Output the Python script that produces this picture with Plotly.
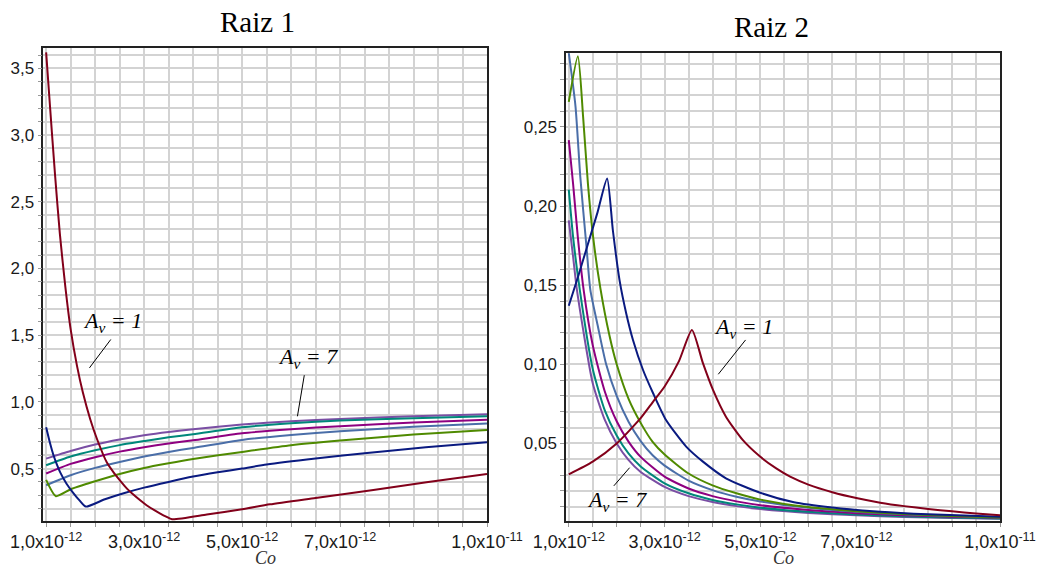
import plotly.graph_objects as go

P = 1e-12  # Co values below are in units of 1e-12

# ---------------- Raiz 1 (left) ----------------
co_l1 = [1.0, 1.08, 1.18, 1.28, 1.39, 1.50, 1.63, 1.75, 1.90, 2.04, 2.24, 2.38, 2.51, 2.65, 2.78, 2.92, 3.05, 3.20, 3.33, 3.45, 3.57, 4.28, 5.0, 5.57, 6.5, 7.68, 8.8, 10.0]
v_l1 = [3.62, 3.21, 2.71, 2.26, 1.87, 1.545, 1.27, 1.07, 0.87, 0.72, 0.545, 0.47, 0.41, 0.35, 0.305, 0.262, 0.225, 0.19, 0.163, 0.14, 0.12, 0.155, 0.195, 0.232, 0.28, 0.34, 0.40, 0.46]

co_l2 = [1.0, 1.08, 1.15, 1.22, 1.29, 1.42, 1.56, 1.69, 1.81, 2.2, 2.6, 3.0, 3.5, 4.0, 4.5, 5.0, 5.5, 6.5, 7.5, 8.75, 10.0]
v_l2 = [0.81, 0.69, 0.60, 0.53, 0.47, 0.385, 0.315, 0.258, 0.215, 0.27, 0.317, 0.357, 0.40, 0.44, 0.472, 0.50, 0.53, 0.575, 0.615, 0.66, 0.6975]

co_l3 = [1.0, 1.2, 1.5, 2.0, 2.5, 3.0, 3.5, 4.0, 5.0, 6.0, 7.0, 8.5, 10.0]
v_l3 = [0.415, 0.293, 0.345, 0.405, 0.46, 0.505, 0.54, 0.572, 0.625, 0.675, 0.71, 0.755, 0.79]

co_lr = [1.0, 1.5, 2.0, 2.5, 3.0, 3.5, 4.0, 5.0, 6.0, 7.0, 8.5, 10.0]
v_l4 = [0.375, 0.45, 0.505, 0.55, 0.59, 0.625, 0.655, 0.715, 0.752, 0.78, 0.813, 0.8375]
v_l5 = [0.463, 0.535, 0.585, 0.627, 0.66, 0.688, 0.712, 0.765, 0.795, 0.818, 0.845, 0.867]
v_l6 = [0.525, 0.59, 0.637, 0.676, 0.706, 0.735, 0.758, 0.81, 0.84, 0.86, 0.878, 0.8925]
v_l7 = [0.575, 0.632, 0.68, 0.718, 0.75, 0.775, 0.795, 0.83, 0.855, 0.872, 0.892, 0.907]

# ---------------- Raiz 2 (right) ----------------
co_r1 = [1.0, 1.5, 2.0, 2.5, 2.75, 3.0, 3.3, 3.57, 3.8, 4.01, 4.28, 4.63, 4.98, 5.33, 5.62, 6.0, 6.5, 7.0, 7.5, 8.0, 8.5, 9.0, 9.5, 10.0]
v_r1 = [0.0305, 0.0385, 0.05, 0.066, 0.076, 0.086, 0.102, 0.1217, 0.1007, 0.0838, 0.0669, 0.0522, 0.0420, 0.0342, 0.0290, 0.0240, 0.0192, 0.0155, 0.0126, 0.0104, 0.0086, 0.0071, 0.0058, 0.0047]

co_r2 = [1.0, 1.2, 1.4, 1.6, 1.80, 1.92, 2.06, 2.20, 2.34, 2.55, 2.76, 3.03, 3.45, 3.80, 4.28, 4.98, 5.7, 6.5, 7.5, 8.5, 10.0]
v_r2 = [0.137, 0.156, 0.176, 0.196, 0.2174, 0.1847, 0.153, 0.132, 0.1154, 0.0964, 0.0817, 0.0648, 0.048, 0.0385, 0.028, 0.019, 0.0128, 0.0095, 0.0068, 0.0052, 0.0037]

co_r3 = [1.0, 1.19, 1.3, 1.4, 1.51, 1.66, 1.85, 2.0, 2.25, 2.5, 2.75, 3.0, 3.5, 4.0, 4.5, 5.0, 6.0, 7.0, 8.0, 9.0, 10.0]
v_r3 = [0.2658, 0.2946, 0.256, 0.214, 0.18, 0.148, 0.118, 0.100, 0.078, 0.063, 0.051, 0.043, 0.031, 0.0235, 0.0185, 0.0145, 0.0098, 0.0072, 0.0054, 0.0042, 0.0032]

co_r4 = [1.0, 1.14, 1.24, 1.37, 1.45, 1.6, 1.78, 2.0, 2.25, 2.5, 2.75, 3.0, 3.5, 4.0, 4.5, 5.0, 6.0, 7.0, 8.0, 9.0, 10.0]
v_r4 = [0.2967, 0.263, 0.2186, 0.174, 0.147, 0.125, 0.10, 0.08, 0.0635, 0.0515, 0.0425, 0.036, 0.0265, 0.0205, 0.0163, 0.0133, 0.0093, 0.0068, 0.0052, 0.0041, 0.0033]

co_r5 = [1.0, 1.09, 1.19, 1.31, 1.5, 1.75, 2.0, 2.25, 2.5, 3.0, 3.5, 4.0, 4.5, 5.0, 6.0, 7.0, 8.0, 9.0, 10.0]
v_r5 = [0.2416, 0.214, 0.18, 0.147, 0.112, 0.083, 0.064, 0.051, 0.0415, 0.029, 0.0215, 0.0167, 0.0134, 0.011, 0.0079, 0.0059, 0.0046, 0.0037, 0.003]

co_r6 = [1.0, 1.09, 1.23, 1.5, 1.75, 2.0, 2.25, 2.5, 3.0, 3.5, 4.0, 4.5, 5.0, 6.0, 7.0, 8.0, 9.0, 10.0]
v_r6 = [0.2104, 0.1805, 0.147, 0.097, 0.071, 0.055, 0.0435, 0.0355, 0.0248, 0.0185, 0.0143, 0.0115, 0.0094, 0.0068, 0.0051, 0.004, 0.0032, 0.0026]

co_r7 = [1.0, 1.09, 1.17, 1.5, 1.75, 2.0, 2.25, 2.5, 3.0, 3.5, 4.0, 4.5, 5.0, 6.0, 7.0, 8.0, 9.0, 10.0]
v_r7 = [0.191, 0.168, 0.147, 0.088, 0.065, 0.05, 0.0395, 0.032, 0.0225, 0.0167, 0.013, 0.0104, 0.0085, 0.0061, 0.0046, 0.0036, 0.0029, 0.0024]

colors = ["#82001A", "#0A1A80", "#4F8A00", "#4A6EA8", "#8E0080", "#00877A", "#7A4EA4"]

x_tickvals = [1e-12, 3e-12, 5e-12, 7e-12, 1e-11]
x_ticktext = ["1,0x10<sup>-12</sup>", "3,0x10<sup>-12</sup>", "5,0x10<sup>-12</sup>",
              "7,0x10<sup>-12</sup>", "1,0x10<sup>-11</sup>"]
yl_tickvals = [0.5, 1.0, 1.5, 2.0, 2.5, 3.0, 3.5]
yl_ticktext = ["0,5", "1,0", "1,5", "2,0", "2,5", "3,0", "3,5"]
yr_tickvals = [0.05, 0.10, 0.15, 0.20, 0.25]
yr_ticktext = ["0,05", "0,10", "0,15", "0,20", "0,25"]

left_series = [(co_l1, v_l1), (co_l2, v_l2), (co_l3, v_l3), (co_lr, v_l4),
               (co_lr, v_l5), (co_lr, v_l6), (co_lr, v_l7)]
right_series = [(co_r1, v_r1), (co_r2, v_r2), (co_r3, v_r3), (co_r4, v_r4),
                (co_r5, v_r5), (co_r6, v_r6), (co_r7, v_r7)]

fig = go.Figure()
for i in reversed(range(7)):
    cx, vy = left_series[i]
    fig.add_trace(go.Scatter(x=[c * P for c in cx], y=vy, mode="lines",
                             line=dict(color=colors[i], width=2, shape="spline", smoothing=0.6),
                             xaxis="x", yaxis="y", showlegend=False, hoverinfo="skip"))
for i in reversed(range(7)):
    cx, vy = right_series[i]
    fig.add_trace(go.Scatter(x=[c * P for c in cx], y=vy, mode="lines",
                             line=dict(color=colors[i], width=2, shape="spline", smoothing=0.6),
                             xaxis="x2", yaxis="y2", showlegend=False, hoverinfo="skip"))

W, H = 1040, 567
grid = "#d3d3d3"
xtickfont = dict(family="Liberation Sans, Arial", size=18, color="#1a1a1a")
ytickfont = dict(family="Liberation Sans, Arial", size=17, color="#1a1a1a")

def xaxis(dom, anchor):
    return dict(domain=dom, anchor=anchor, range=[0.942e-12, 1e-11], automargin=False,
                tickmode="array", tickvals=x_tickvals, ticktext=x_ticktext,
                ticks="outside", ticklen=4, tickcolor="#999", tickfont=xtickfont,
                showgrid=True, gridcolor=grid, gridwidth=1.5, zeroline=False,
                showline=True, linecolor="#222", linewidth=1.5, mirror=True,
                minor=dict(tick0=1e-12, dtick=0.5e-12, showgrid=True, gridcolor=grid,
                           gridwidth=1.5, ticks="outside", ticklen=4, tickcolor="#999"))

def yaxis(dom, anchor, rng, tv, tt, mdt):
    return dict(domain=dom, anchor=anchor, range=rng, automargin=False,
                tickmode="array", tickvals=tv, ticktext=tt,
                ticks="outside", ticklen=4, tickcolor="#999", tickfont=ytickfont,
                showgrid=True, gridcolor=grid, gridwidth=1.5, zeroline=False,
                showline=True, linecolor="#222", linewidth=1.5, mirror=True,
                minor=dict(tick0=0, dtick=mdt, showgrid=True, gridcolor=grid,
                           gridwidth=1.5, ticks="outside", ticklen=4, tickcolor="#999"))

fig.update_layout(
    width=W, height=H, margin=dict(l=0, r=0, t=0, b=0, autoexpand=False),
    paper_bgcolor="white", plot_bgcolor="white",
    xaxis=xaxis([43.3 / W, 487 / W], "y"),
    yaxis=yaxis([1 - 521 / H, 1 - 48.3 / H], "x", [0.107, 3.651], yl_tickvals, yl_ticktext, 0.1),
    xaxis2=xaxis([566 / W, 1000 / W], "y2"),
    yaxis2=yaxis([1 - 521 / H, 1 - 53.3 / H], "x2", [0.001, 0.2965], yr_tickvals, yr_ticktext, 0.01),
)

serif = "Liberation Serif, Times New Roman, serif"
def lab(text, x, y, xref, yref, size, xanchor="center", color="black"):
    return dict(text=text, x=x, y=y, xref=xref, yref=yref, xanchor=xanchor, yanchor="middle",
                showarrow=False, font=dict(family=serif, size=size, color=color))

ann = [
    lab("Raiz 1", 257 / W, 1 - 22 / H, "paper", "paper", 29),
    lab("Raiz 2", 771 / W, 1 - 27 / H, "paper", "paper", 29),
    lab("<i>Co</i>", (43.3 + 487) / 2 / W, 1 - 558 / H, "paper", "paper", 18, color="#333"),
    lab("<i>Co</i>", (566 + 1000) / 2 / W, 1 - 558 / H, "paper", "paper", 18, color="#333"),
    lab("<i>A<sub>v</sub> = 1</i>", 1.72e-12, 1.60, "x", "y", 22, "left"),
    lab("<i>A<sub>v</sub> = 7</i>", 5.70e-12, 1.33, "x", "y", 22, "left"),
    lab("<i>A<sub>v</sub> = 1</i>", 3.98e-12, 0.123, "x2", "y2", 22, "left"),
    lab("<i>A<sub>v</sub> = 7</i>", 1.33e-12, 0.0135, "x2", "y2", 22, "left"),
]
fig.update_layout(annotations=ann)

shapes = [
    dict(type="line", xref="x", yref="y", x0=1.884e-12, y0=1.255, x1=2.32e-12, y1=1.468),
    dict(type="line", xref="x", yref="y", x0=6.27e-12, y0=1.20, x1=6.13e-12, y1=0.892),
    dict(type="line", xref="x2", yref="y2", x0=4.69e-12, y0=0.1154, x1=4.12e-12, y1=0.0937),
    dict(type="line", xref="x2", yref="y2", x0=2.27e-12, y0=0.0347, x1=1.94e-12, y1=0.0232),
]
for s in shapes:
    s["line"] = dict(color="black", width=1)
fig.update_layout(shapes=shapes)

fig.write_html("out.html")
